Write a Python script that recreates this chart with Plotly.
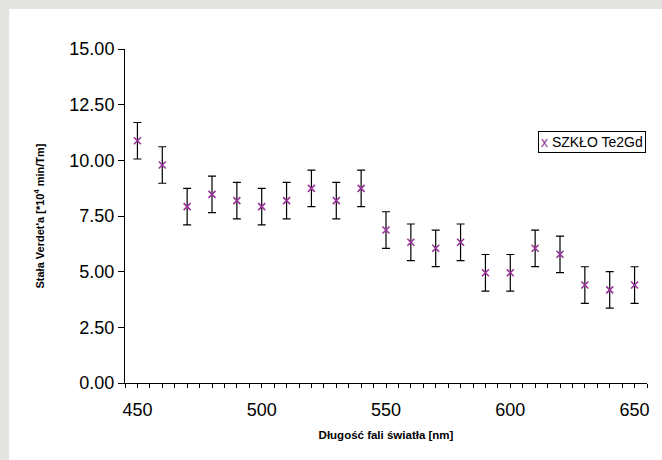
import plotly.graph_objects as go

wavelength = [450, 460, 470, 480, 490, 500, 510, 520, 530, 540, 550,
              560, 570, 580, 590, 600, 610, 620, 630, 640, 650]
verdet = [10.88, 9.79, 7.92, 8.47, 8.19, 7.92, 8.19, 8.74, 8.19, 8.74, 6.87,
          6.32, 6.05, 6.32, 4.95, 4.95, 6.05, 5.78, 4.40, 4.18, 4.40]
err = [0.82] * len(wavelength)
series_name = "SZKŁO Te2Gd"

L, R, T, B = 124.5, 12.5, 49, 77
W, H = 662, 460
pw, ph = W - L - R, H - T - B
GREY = "#e4e4e0"

fig = go.Figure()
fig.add_trace(go.Scatter(
    x=wavelength, y=verdet, mode="markers", name=series_name, showlegend=False,
    marker=dict(symbol="x-thin", size=7, line=dict(color="#993399", width=1.6), color="#993399"),
    error_y=dict(type="data", array=err, visible=True, color="black", thickness=1.2, width=4),
))

# grey frame strips on the left and top
fig.add_shape(type="rect", xref="paper", yref="paper", layer="below",
              x0=-(L + 10) / pw, x1=(8 - L) / pw, y0=-(B + 10) / ph, y1=1 + (T + 10) / ph,
              fillcolor=GREY, line=dict(width=0))
fig.add_shape(type="rect", xref="paper", yref="paper", layer="below",
              x0=-(L + 10) / pw, x1=1 + (R + 10) / pw, y0=1 + (T - 9) / ph, y1=1 + (T + 10) / ph,
              fillcolor=GREY, line=dict(width=0))

fig.add_annotation(
    xref="paper", yref="paper", x=(540 - L) / pw, y=(383 - 131) / ph,
    xanchor="left", yanchor="top", showarrow=False, align="left",
    text="<span style='color:#993399'>x</span> " + series_name,
    font=dict(size=14, color="black"), bordercolor="black", borderwidth=1,
    borderpad=2, bgcolor="white",
)

fig.update_layout(
    width=W, height=H,
    margin=dict(l=L, r=R, t=T, b=B),
    paper_bgcolor="white", plot_bgcolor="white",
    font=dict(family="Liberation Sans, Arial", color="black"),
    showlegend=False,
)
fig.update_xaxes(range=[445, 655], dtick=50, tick0=450, ticks="outside", ticklen=4,
                 tickcolor="black", showline=True, linecolor="black", linewidth=1,
                 showgrid=False, zeroline=False, tickfont=dict(size=18), ticklabelstandoff=6,
                 minor=dict(dtick=5, tick0=445, ticks="outside", ticklen=4, tickcolor="black", showgrid=False),
                 title=dict(text="<b>Długość fali światła [nm]</b>", font=dict(size=11.5), standoff=12))
fig.update_yaxes(range=[0, 15], dtick=2.5, tickformat=".2f", ticks="outside", ticklen=6,
                 tickcolor="black", showline=True, linecolor="black", linewidth=1,
                 showgrid=False, zeroline=False, tickfont=dict(size=18),
                 title=dict(text="<b>Stała Verdet'a [*10<sup>4</sup> min/Tm]</b>", font=dict(size=11), standoff=22))

fig.write_html(
    "out.html",
    config={"displayModeBar": False},
    post_script="document.body.style.margin='0';document.body.style.overflow='hidden';",
)
